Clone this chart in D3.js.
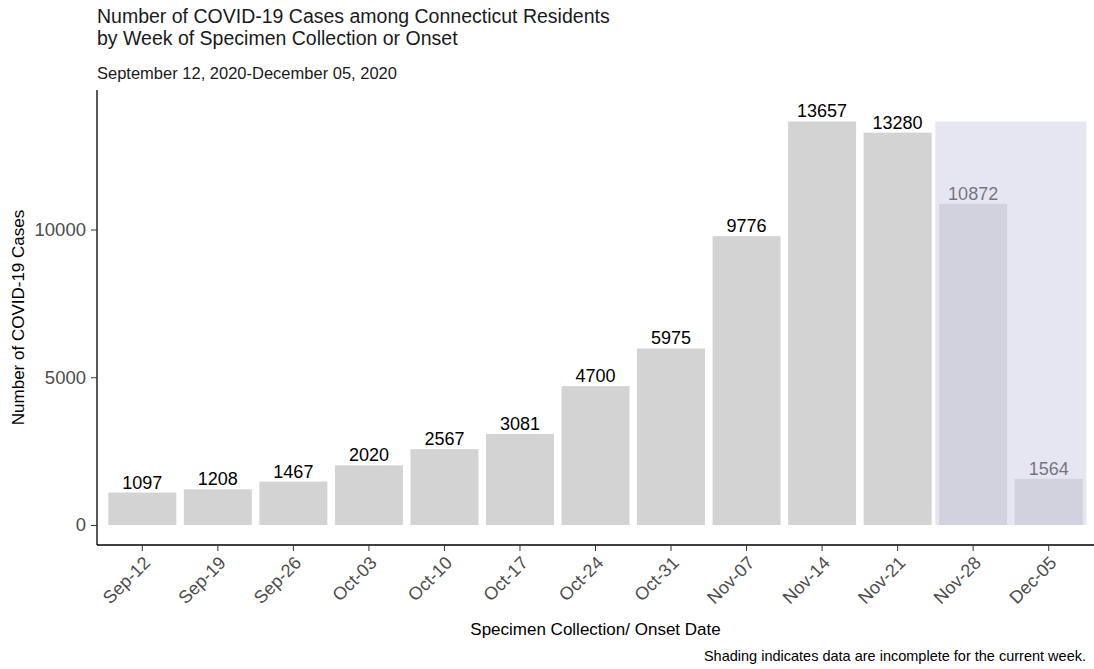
<!DOCTYPE html>
<html>
<head>
    <title>COVID-19 Cases by Week</title>
    <script src="https://d3js.org/d3.v7.min.js"></script>
    <style>
        body { margin: 0; background: #fff; }
        text { font-family: "Liberation Sans", Arial, sans-serif; }
    </style>
</head>
<body>
    <div id="chart"></div>

    <script>
        // Data
        const weeks = ["Sep-12", "Sep-19", "Sep-26", "Oct-03", "Oct-10", "Oct-17", "Oct-24",
                       "Oct-31", "Nov-07", "Nov-14", "Nov-21", "Nov-28", "Dec-05"];
        const cases = [1097, 1208, 1467, 2020, 2567, 3081, 4700, 5975, 9776, 13657, 13280, 10872, 1564];
        const incompleteWeeks = ["Nov-28", "Dec-05"];
        const yTicks = [0, 5000, 10000];

        const width = 1094, height = 669;
        const margin = {top: 90, right: 0, bottom: 124, left: 97};
        const font = "Liberation Sans, Arial, sans-serif";

        const svg = d3.select("#chart")
            .append("svg")
            .attr("width", width)
            .attr("height", height);

        // Scales
        const x = d3.scaleBand()
            .domain(weeks)
            .range([margin.left, width - margin.right])
            .paddingInner(0.1)
            .paddingOuter(0.15);

        const maxVal = d3.max(cases);
        const y = d3.scaleLinear()
            .domain([-0.0496 * maxVal, 1.078 * maxVal])
            .range([height - margin.bottom, margin.top]);

        // Bars
        svg.selectAll(".bar")
            .data(weeks)
            .join("rect")
            .attr("class", "bar")
            .attr("x", d => x(d))
            .attr("width", x.bandwidth())
            .attr("y", (d, i) => y(cases[i]))
            .attr("height", (d, i) => y(0) - y(cases[i]))
            .attr("fill", "#d3d3d3");

        // Value labels
        svg.selectAll(".val")
            .data(weeks)
            .join("text")
            .attr("class", "val")
            .attr("x", d => x(d) + x.bandwidth() / 2)
            .attr("y", (d, i) => y(cases[i]) - 4)
            .attr("text-anchor", "middle")
            .attr("font-size", 18)
            .attr("fill", "#000")
            .text((d, i) => cases[i]);

        // Shading over incomplete weeks (drawn on top, semi transparent)
        const step = x.step();
        const first = incompleteWeeks[0], last = incompleteWeeks[incompleteWeeks.length - 1];
        const x0 = x(first) + x.bandwidth() / 2 - step / 2;
        const x1 = x(last) + x.bandwidth() / 2 + step / 2;
        svg.append("rect")
            .attr("x", x0)
            .attr("width", x1 - x0)
            .attr("y", y(maxVal))
            .attr("height", y(0) - y(maxVal))
            .attr("fill", "#d2d2e8")
            .attr("opacity", 0.55);

        // Y axis
        const yAxis = svg.append("g")
            .attr("transform", `translate(${margin.left},0)`)
            .call(d3.axisLeft(y).tickValues(yTicks).tickSize(6).tickPadding(5).tickFormat(d3.format("d")));
        yAxis.select(".domain").attr("stroke", "#000").attr("stroke-width", 1.3)
            .attr("d", `M0,${y.range()[1]}V${y.range()[0]}`);
        yAxis.selectAll(".tick line").attr("stroke", "#333");
        yAxis.selectAll(".tick text").attr("font-size", 18.5).attr("fill", "#4d4d4d")
            .attr("font-family", font);

        // X axis
        const xAxis = svg.append("g")
            .attr("transform", `translate(0,${height - margin.bottom})`)
            .call(d3.axisBottom(x).tickSize(6));
        xAxis.select(".domain").attr("stroke", "#000").attr("stroke-width", 1.3)
            .attr("d", `M${x.range()[0]},0H${x.range()[1]}`);
        xAxis.selectAll(".tick line").attr("stroke", "#333");
        xAxis.selectAll(".tick text")
            .attr("font-size", 18)
            .attr("fill", "#4d4d4d")
            .attr("font-family", font)
            .attr("text-anchor", "end")
            .attr("y", 0)
            .attr("dy", 0)
            .attr("transform", "translate(9,19) rotate(-45)");

        // Titles
        svg.append("text")
            .attr("x", margin.left).attr("y", 23)
            .attr("font-size", 19.5).attr("fill", "#1a1a1a")
            .text("Number of COVID-19 Cases among Connecticut Residents");
        svg.append("text")
            .attr("x", margin.left).attr("y", 45)
            .attr("font-size", 19.5).attr("fill", "#1a1a1a")
            .text("by Week of Specimen Collection or Onset");
        svg.append("text")
            .attr("x", margin.left).attr("y", 79)
            .attr("font-size", 16.5).attr("fill", "#1a1a1a")
            .text("September 12, 2020-December 05, 2020");

        // Axis titles
        svg.append("text")
            .attr("x", (x.range()[0] + x.range()[1]) / 2).attr("y", 635)
            .attr("text-anchor", "middle")
            .attr("font-size", 17).attr("fill", "#000")
            .text("Specimen Collection/ Onset Date");
        svg.append("text")
            .attr("transform", `translate(24,${(y.range()[0] + y.range()[1]) / 2}) rotate(-90)`)
            .attr("text-anchor", "middle")
            .attr("font-size", 17).attr("fill", "#000")
            .text("Number of COVID-19 Cases");

        // Caption
        svg.append("text")
            .attr("x", width - 8).attr("y", 661)
            .attr("text-anchor", "end")
            .attr("font-size", 14.5).attr("fill", "#000")
            .text("Shading indicates data are incomplete for the current week.");
    </script>
</body>
</html>
